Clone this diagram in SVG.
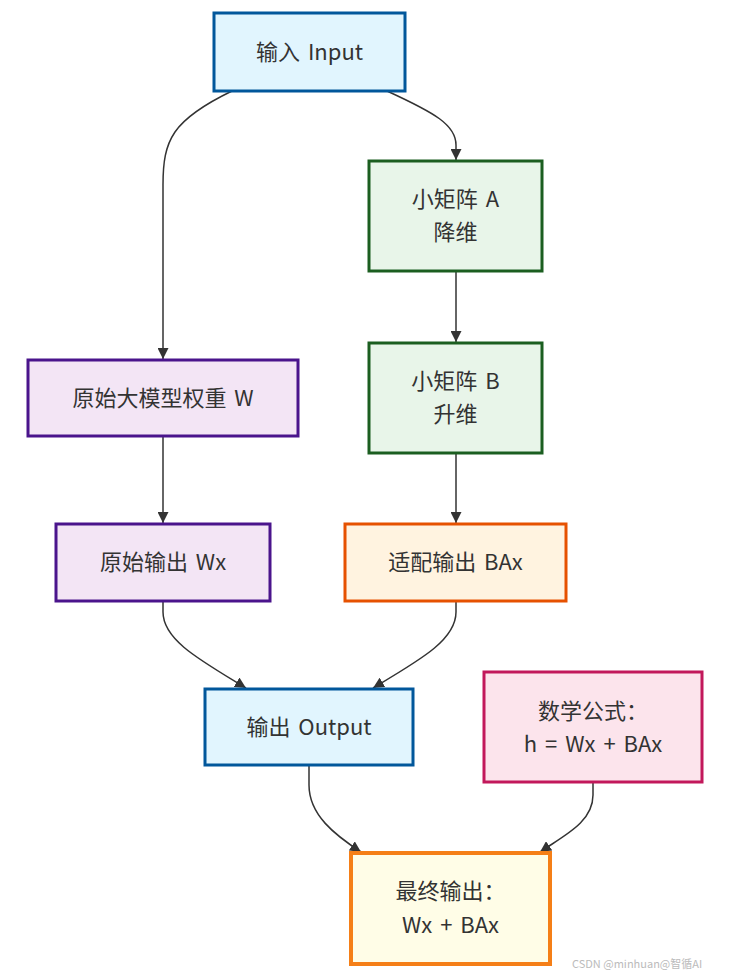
<svg xmlns="http://www.w3.org/2000/svg" width="731" height="977" viewBox="0 0 731 977">
<defs>
<style>
.lbl{font-family:"Noto Sans CJK SC","Noto Sans",sans-serif;font-size:22px;fill:#333;text-anchor:middle;dominant-baseline:central;word-spacing:3px}
.edge{fill:none;stroke:#333;stroke-width:1.5}
.blue{fill:#e1f5fe;stroke:#01579b;stroke-width:3}
.green{fill:#e8f5e9;stroke:#1b5e20;stroke-width:3}
.purple{fill:#f3e5f5;stroke:#4a148c;stroke-width:3}
.orange{fill:#fff3e0;stroke:#e65100;stroke-width:3}
.pink{fill:#fce4ec;stroke:#c2185b;stroke-width:3}
.final{fill:#fffde7;stroke:#f57f17;stroke-width:4}
.wm{font-family:"Noto Sans CJK SC","Noto Sans",sans-serif;font-size:11px;fill:#bbb}
</style>
<marker id="arr" viewBox="0 0 10 10" refX="10" refY="5" markerWidth="11" markerHeight="11" markerUnits="userSpaceOnUse" orient="auto">
<path d="M0,0 L10,5 L0,10 z" fill="#333"/>
</marker>
</defs>
<rect width="731" height="977" fill="#fff"/>
<g id="connectors">
<path class="edge" marker-end="url(#arr)" d="M232,91 C172,120 163,140 163,185 L163,359"/>
<path class="edge" marker-end="url(#arr)" d="M387,91 C435,113 456,125 456,145 L456,160"/>
<path class="edge" marker-end="url(#arr)" d="M456,271 L456,342"/>
<path class="edge" marker-end="url(#arr)" d="M163,436 L163,523"/>
<path class="edge" marker-end="url(#arr)" d="M456,453 L456,523"/>
<path class="edge" marker-end="url(#arr)" d="M163,601 L163,612 C163,640 200,660 246,688"/>
<path class="edge" marker-end="url(#arr)" d="M456,601 L456,612 C456,640 420,660 373,688"/>
<path class="edge" marker-end="url(#arr)" d="M309,765 L309,785 C309,815 335,835 361,852"/>
<path class="edge" marker-end="url(#arr)" d="M593,782 L593,795 C593,822 565,835 540,852"/>
</g>
<g id="input"><rect class="blue" x="214" y="13" width="191" height="78"/><text class="lbl" x="309.5" y="50">输入 Input</text></g>
<g id="matA"><rect class="green" x="369" y="161" width="173" height="110"/><text class="lbl" x="455.5" y="197">小矩阵 A</text><text class="lbl" x="455.5" y="230">降维</text></g>
<g id="matB"><rect class="green" x="369" y="343" width="173" height="110"/><text class="lbl" x="455.5" y="379">小矩阵 B</text><text class="lbl" x="455.5" y="412">升维</text></g>
<g id="weightW"><rect class="purple" x="28" y="360" width="270" height="76"/><text class="lbl" x="163" y="396">原始大模型权重 W</text></g>
<g id="outWx"><rect class="purple" x="56" y="524" width="214" height="77"/><text class="lbl" x="163" y="560">原始输出 Wx</text></g>
<g id="outBAx"><rect class="orange" x="345" y="524" width="221" height="77"/><text class="lbl" x="455.5" y="560">适配输出 BAx</text></g>
<g id="output"><rect class="blue" x="205" y="689" width="208" height="76"/><text class="lbl" x="309" y="725">输出 Output</text></g>
<g id="formula"><rect class="pink" x="484" y="672" width="218" height="110"/><text class="lbl" x="593" y="709">数学公式：</text><text class="lbl" x="593" y="742">h = Wx + BAx</text></g>
<g id="final"><rect class="final" x="351" y="853" width="199" height="111"/><text class="lbl" x="450.5" y="889">最终输出：</text><text class="lbl" x="450.5" y="923">Wx + BAx</text></g>
<text class="wm" x="572" y="968">CSDN @minhuan@智循AI</text>
</svg>
